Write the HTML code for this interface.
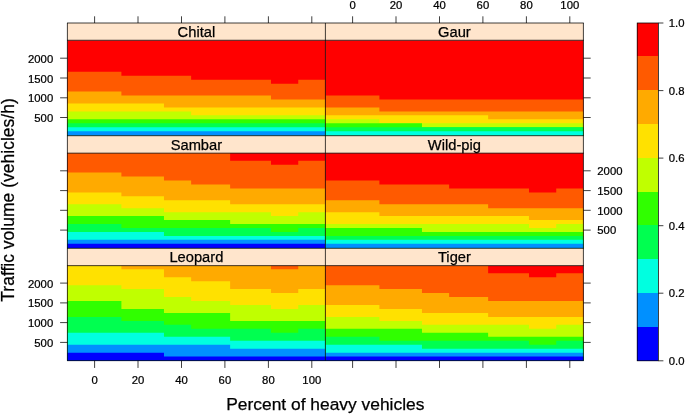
<!DOCTYPE html>
<html><head><meta charset="utf-8"><title>levelplot</title>
<style>html,body{margin:0;padding:0;background:#fff;}svg{display:block;will-change:transform;}</style></head>
<body>
<svg width="685" height="415" viewBox="0 0 685 415">
<rect width="685" height="415" fill="#fff"/>
<path d="M67.40,40.15H121.39V40.15H163.97V40.15H191.13V40.15H230.13V40.15H270.98V40.15H298.24V40.15H325.40V135.70H67.40Z" fill="#FF0000"/>
<path d="M67.40,71.81H121.39V75.77H163.97V75.77H191.13V79.73H230.13V79.73H270.98V83.69H298.24V79.73H325.40V135.70H67.40Z" fill="#FF5A00"/>
<path d="M67.40,91.60H121.39V95.56H163.97V95.56H191.13V95.56H230.13V95.56H270.98V99.52H298.24V99.52H325.40V135.70H67.40Z" fill="#FFAA00"/>
<path d="M67.40,103.48H121.39V103.48H163.97V107.44H191.13V107.44H230.13V107.44H270.98V107.44H298.24V107.44H325.40V135.70H67.40Z" fill="#FFE100"/>
<path d="M67.40,111.39H121.39V111.39H163.97V111.39H191.13V115.35H230.13V115.35H270.98V115.35H298.24V115.35H325.40V135.70H67.40Z" fill="#C0FF00"/>
<path d="M67.40,119.31H121.39V119.31H163.97V119.31H191.13V119.31H230.13V119.31H270.98V119.31H298.24V119.31H325.40V135.70H67.40Z" fill="#30FF00"/>
<path d="M67.40,123.27H121.39V123.27H163.97V123.27H191.13V123.27H230.13V123.27H270.98V123.27H298.24V123.27H325.40V135.70H67.40Z" fill="#00FF50"/>
<path d="M67.40,127.23H121.39V127.23H163.97V127.23H191.13V127.23H230.13V127.23H270.98V127.23H298.24V127.23H325.40V135.70H67.40Z" fill="#00FFE0"/>
<path d="M67.40,131.18H121.39V131.18H163.97V131.18H191.13V131.18H230.13V131.18H270.98V131.18H298.24V131.18H325.40V135.70H67.40Z" fill="#0090FF"/>
<path d="M325.40,40.15H379.39V40.15H421.97V40.15H449.13V40.15H488.13V40.15H528.98V40.15H556.24V40.15H583.40V135.70H325.40Z" fill="#FF0000"/>
<path d="M325.40,95.56H379.39V99.52H421.97V99.52H449.13V99.52H488.13V99.52H528.98V99.52H556.24V99.52H583.40V135.70H325.40Z" fill="#FF5A00"/>
<path d="M325.40,107.44H379.39V111.39H421.97V111.39H449.13V111.39H488.13V111.39H528.98V111.39H556.24V111.39H583.40V135.70H325.40Z" fill="#FFAA00"/>
<path d="M325.40,115.35H379.39V115.35H421.97V115.35H449.13V115.35H488.13V119.31H528.98V119.31H556.24V119.31H583.40V135.70H325.40Z" fill="#FFE100"/>
<path d="M325.40,119.31H379.39V123.27H421.97V123.27H449.13V123.27H488.13V123.27H528.98V123.27H556.24V123.27H583.40V135.70H325.40Z" fill="#C0FF00"/>
<path d="M325.40,123.27H379.39V123.27H421.97V127.23H449.13V127.23H488.13V127.23H528.98V127.23H556.24V127.23H583.40V135.70H325.40Z" fill="#30FF00"/>
<path d="M325.40,127.23H379.39V127.23H421.97V127.23H449.13V127.23H488.13V127.23H528.98V127.23H556.24V127.23H583.40V135.70H325.40Z" fill="#00FF50"/>
<path d="M325.40,131.18H379.39V131.18H421.97V131.18H449.13V131.18H488.13V131.18H528.98V131.18H556.24V131.18H583.40V135.70H325.40Z" fill="#00FFE0"/>
<path d="M67.40,152.85H121.39V152.85H163.97V152.85H191.13V152.85H230.13V152.85H270.98V152.85H298.24V152.85H325.40V248.30H67.40Z" fill="#FF0000"/>
<path d="M67.40,152.85H121.39V152.85H163.97V152.85H191.13V152.85H230.13V160.76H270.98V164.71H298.24V160.76H325.40V248.30H67.40Z" fill="#FF5A00"/>
<path d="M67.40,172.62H121.39V176.57H163.97V180.53H191.13V184.48H230.13V188.44H270.98V188.44H298.24V188.44H325.40V248.30H67.40Z" fill="#FFAA00"/>
<path d="M67.40,192.39H121.39V196.34H163.97V200.30H191.13V200.30H230.13V204.25H270.98V204.25H298.24V204.25H325.40V248.30H67.40Z" fill="#FFE100"/>
<path d="M67.40,204.25H121.39V208.21H163.97V212.16H191.13V212.16H230.13V212.16H270.98V216.11H298.24V212.16H325.40V248.30H67.40Z" fill="#C0FF00"/>
<path d="M67.40,216.11H121.39V216.11H163.97V220.07H191.13V220.07H230.13V224.02H270.98V224.02H298.24V224.02H325.40V248.30H67.40Z" fill="#30FF00"/>
<path d="M67.40,224.02H121.39V227.98H163.97V227.98H191.13V227.98H230.13V227.98H270.98V231.93H298.24V227.98H325.40V248.30H67.40Z" fill="#00FF50"/>
<path d="M67.40,231.93H121.39V231.93H163.97V235.88H191.13V235.88H230.13V235.88H270.98V235.88H298.24V235.88H325.40V248.30H67.40Z" fill="#00FFE0"/>
<path d="M67.40,239.84H121.39V239.84H163.97V239.84H191.13V239.84H230.13V239.84H270.98V239.84H298.24V239.84H325.40V248.30H67.40Z" fill="#0090FF"/>
<path d="M67.40,243.79H121.39V243.79H163.97V243.79H191.13V243.79H230.13V243.79H270.98V243.79H298.24V243.79H325.40V248.30H67.40Z" fill="#0000FF"/>
<path d="M325.40,152.85H379.39V152.85H421.97V152.85H449.13V152.85H488.13V152.85H528.98V152.85H556.24V152.85H583.40V248.30H325.40Z" fill="#FF0000"/>
<path d="M325.40,180.53H379.39V184.48H421.97V184.48H449.13V188.44H488.13V188.44H528.98V192.39H556.24V188.44H583.40V248.30H325.40Z" fill="#FF5A00"/>
<path d="M325.40,200.30H379.39V204.25H421.97V204.25H449.13V204.25H488.13V208.21H528.98V208.21H556.24V208.21H583.40V248.30H325.40Z" fill="#FFAA00"/>
<path d="M325.40,212.16H379.39V216.11H421.97V216.11H449.13V216.11H488.13V216.11H528.98V220.07H556.24V220.07H583.40V248.30H325.40Z" fill="#FFE100"/>
<path d="M325.40,224.02H379.39V224.02H421.97V224.02H449.13V224.02H488.13V224.02H528.98V227.98H556.24V224.02H583.40V248.30H325.40Z" fill="#C0FF00"/>
<path d="M325.40,227.98H379.39V227.98H421.97V231.93H449.13V231.93H488.13V231.93H528.98V231.93H556.24V231.93H583.40V248.30H325.40Z" fill="#30FF00"/>
<path d="M325.40,235.88H379.39V235.88H421.97V235.88H449.13V235.88H488.13V235.88H528.98V235.88H556.24V235.88H583.40V248.30H325.40Z" fill="#00FF50"/>
<path d="M325.40,239.84H379.39V239.84H421.97V239.84H449.13V239.84H488.13V239.84H528.98V239.84H556.24V239.84H583.40V248.30H325.40Z" fill="#00FFE0"/>
<path d="M325.40,243.79H379.39V243.79H421.97V243.79H449.13V243.79H488.13V243.79H528.98V243.79H556.24V243.79H583.40V248.30H325.40Z" fill="#0090FF"/>
<path d="M67.40,265.30H121.39V265.30H163.97V265.30H191.13V265.30H230.13V265.30H270.98V265.30H298.24V265.30H325.40V360.65H67.40Z" fill="#FF0000"/>
<path d="M67.40,265.30H121.39V265.30H163.97V265.30H191.13V265.30H230.13V265.30H270.98V265.30H298.24V265.30H325.40V360.65H67.40Z" fill="#FF5A00"/>
<path d="M67.40,265.30H121.39V265.30H163.97V265.30H191.13V265.30H230.13V265.30H270.98V269.27H298.24V265.30H325.40V360.65H67.40Z" fill="#FFAA00"/>
<path d="M67.40,265.30H121.39V269.27H163.97V277.21H191.13V281.18H230.13V289.12H270.98V293.09H298.24V289.12H325.40V360.65H67.40Z" fill="#FFE100"/>
<path d="M67.40,285.15H121.39V289.12H163.97V297.06H191.13V301.03H230.13V305.00H270.98V308.97H298.24V305.00H325.40V360.65H67.40Z" fill="#C0FF00"/>
<path d="M67.40,301.03H121.39V308.97H163.97V312.94H191.13V312.94H230.13V320.88H270.98V320.88H298.24V320.88H325.40V360.65H67.40Z" fill="#30FF00"/>
<path d="M67.40,316.91H121.39V320.88H163.97V324.85H191.13V328.82H230.13V328.82H270.98V332.79H298.24V328.82H325.40V360.65H67.40Z" fill="#00FF50"/>
<path d="M67.40,332.79H121.39V332.79H163.97V336.76H191.13V336.76H230.13V340.73H270.98V340.73H298.24V340.73H325.40V360.65H67.40Z" fill="#00FFE0"/>
<path d="M67.40,344.70H121.39V344.70H163.97V344.70H191.13V344.70H230.13V348.67H270.98V348.67H298.24V348.67H325.40V360.65H67.40Z" fill="#0090FF"/>
<path d="M67.40,352.64H121.39V352.64H163.97V356.61H191.13V356.61H230.13V356.61H270.98V356.61H298.24V356.61H325.40V360.65H67.40Z" fill="#0000FF"/>
<path d="M325.40,265.30H379.39V265.30H421.97V265.30H449.13V265.30H488.13V265.30H528.98V265.30H556.24V265.30H583.40V360.65H325.40Z" fill="#FF0000"/>
<path d="M325.40,265.30H379.39V265.30H421.97V265.30H449.13V265.30H488.13V273.24H528.98V277.21H556.24V273.24H583.40V360.65H325.40Z" fill="#FF5A00"/>
<path d="M325.40,285.15H379.39V289.12H421.97V293.09H449.13V297.06H488.13V301.03H528.98V301.03H556.24V301.03H583.40V360.65H325.40Z" fill="#FFAA00"/>
<path d="M325.40,305.00H379.39V308.97H421.97V312.94H449.13V312.94H488.13V316.91H528.98V316.91H556.24V316.91H583.40V360.65H325.40Z" fill="#FFE100"/>
<path d="M325.40,316.91H379.39V320.88H421.97V324.85H449.13V324.85H488.13V324.85H528.98V328.82H556.24V324.85H583.40V360.65H325.40Z" fill="#C0FF00"/>
<path d="M325.40,328.82H379.39V328.82H421.97V332.79H449.13V332.79H488.13V336.76H528.98V336.76H556.24V336.76H583.40V360.65H325.40Z" fill="#30FF00"/>
<path d="M325.40,336.76H379.39V340.73H421.97V340.73H449.13V340.73H488.13V340.73H528.98V344.70H556.24V340.73H583.40V360.65H325.40Z" fill="#00FF50"/>
<path d="M325.40,344.70H379.39V344.70H421.97V348.67H449.13V348.67H488.13V348.67H528.98V348.67H556.24V348.67H583.40V360.65H325.40Z" fill="#00FFE0"/>
<path d="M325.40,352.64H379.39V352.64H421.97V352.64H449.13V352.64H488.13V352.64H528.98V352.64H556.24V352.64H583.40V360.65H325.40Z" fill="#0090FF"/>
<path d="M325.40,356.61H379.39V356.61H421.97V356.61H449.13V356.61H488.13V356.61H528.98V356.61H556.24V356.61H583.40V360.65H325.40Z" fill="#0000FF"/>
<rect x="67.4" y="23.0" width="516.0" height="17.25" fill="#FFE5CC"/>
<text x="196.4" y="36.9" font-size="14.7" text-anchor="middle" font-family="Liberation Sans, sans-serif" stroke="#000" stroke-width="0.25">Chital</text>
<text x="454.4" y="36.9" font-size="14.7" text-anchor="middle" font-family="Liberation Sans, sans-serif" stroke="#000" stroke-width="0.25">Gaur</text>
<rect x="67.4" y="135.7" width="516.0" height="17.450000000000017" fill="#FFE5CC"/>
<text x="196.4" y="149.8" font-size="14.7" text-anchor="middle" font-family="Liberation Sans, sans-serif" stroke="#000" stroke-width="0.25">Sambar</text>
<text x="454.4" y="149.8" font-size="14.7" text-anchor="middle" font-family="Liberation Sans, sans-serif" stroke="#000" stroke-width="0.25">Wild-pig</text>
<rect x="67.4" y="248.3" width="516.0" height="17.349999999999966" fill="#FFE5CC"/>
<text x="196.4" y="262.2" font-size="14.7" text-anchor="middle" font-family="Liberation Sans, sans-serif" stroke="#000" stroke-width="0.25">Leopard</text>
<text x="454.4" y="262.2" font-size="14.7" text-anchor="middle" font-family="Liberation Sans, sans-serif" stroke="#000" stroke-width="0.25">Tiger</text>
<path d="M67.03,23.0H583.77M67.03,40.25H583.77M67.03,135.7H583.77M67.03,153.15H583.77M67.03,248.3H583.77M67.03,265.65H583.77M67.03,360.65H583.77M67.4,23.0V360.65M325.4,23.0V360.65M583.4,23.0V360.65" fill="none" stroke="#000" stroke-width="0.75"/>
<line x1="94.6" y1="23.0" x2="94.6" y2="16.3" stroke="#000" stroke-width="0.75"/>
<line x1="352.6" y1="23.0" x2="352.6" y2="16.3" stroke="#000" stroke-width="0.75"/>
<text transform="translate(352.6,8.6) scale(0.967,1)" font-size="11.7" text-anchor="middle" font-family="Liberation Sans, sans-serif" stroke="#000" stroke-width="0.25">0</text>
<line x1="94.6" y1="360.65" x2="94.6" y2="367.95" stroke="#000" stroke-width="0.75"/>
<text transform="translate(94.6,383.7) scale(0.967,1)" font-size="11.7" text-anchor="middle" font-family="Liberation Sans, sans-serif" stroke="#000" stroke-width="0.25">0</text>
<line x1="352.6" y1="360.65" x2="352.6" y2="367.95" stroke="#000" stroke-width="0.75"/>
<line x1="138.0" y1="23.0" x2="138.0" y2="16.3" stroke="#000" stroke-width="0.75"/>
<line x1="396.0" y1="23.0" x2="396.0" y2="16.3" stroke="#000" stroke-width="0.75"/>
<text transform="translate(396.0,8.6) scale(0.967,1)" font-size="11.7" text-anchor="middle" font-family="Liberation Sans, sans-serif" stroke="#000" stroke-width="0.25">20</text>
<line x1="138.0" y1="360.65" x2="138.0" y2="367.95" stroke="#000" stroke-width="0.75"/>
<text transform="translate(138.0,383.7) scale(0.967,1)" font-size="11.7" text-anchor="middle" font-family="Liberation Sans, sans-serif" stroke="#000" stroke-width="0.25">20</text>
<line x1="396.0" y1="360.65" x2="396.0" y2="367.95" stroke="#000" stroke-width="0.75"/>
<line x1="181.5" y1="23.0" x2="181.5" y2="16.3" stroke="#000" stroke-width="0.75"/>
<line x1="439.5" y1="23.0" x2="439.5" y2="16.3" stroke="#000" stroke-width="0.75"/>
<text transform="translate(439.5,8.6) scale(0.967,1)" font-size="11.7" text-anchor="middle" font-family="Liberation Sans, sans-serif" stroke="#000" stroke-width="0.25">40</text>
<line x1="181.5" y1="360.65" x2="181.5" y2="367.95" stroke="#000" stroke-width="0.75"/>
<text transform="translate(181.5,383.7) scale(0.967,1)" font-size="11.7" text-anchor="middle" font-family="Liberation Sans, sans-serif" stroke="#000" stroke-width="0.25">40</text>
<line x1="439.5" y1="360.65" x2="439.5" y2="367.95" stroke="#000" stroke-width="0.75"/>
<line x1="224.9" y1="23.0" x2="224.9" y2="16.3" stroke="#000" stroke-width="0.75"/>
<line x1="482.9" y1="23.0" x2="482.9" y2="16.3" stroke="#000" stroke-width="0.75"/>
<text transform="translate(482.9,8.6) scale(0.967,1)" font-size="11.7" text-anchor="middle" font-family="Liberation Sans, sans-serif" stroke="#000" stroke-width="0.25">60</text>
<line x1="224.9" y1="360.65" x2="224.9" y2="367.95" stroke="#000" stroke-width="0.75"/>
<text transform="translate(224.9,383.7) scale(0.967,1)" font-size="11.7" text-anchor="middle" font-family="Liberation Sans, sans-serif" stroke="#000" stroke-width="0.25">60</text>
<line x1="482.9" y1="360.65" x2="482.9" y2="367.95" stroke="#000" stroke-width="0.75"/>
<line x1="268.4" y1="23.0" x2="268.4" y2="16.3" stroke="#000" stroke-width="0.75"/>
<line x1="526.4" y1="23.0" x2="526.4" y2="16.3" stroke="#000" stroke-width="0.75"/>
<text transform="translate(526.4,8.6) scale(0.967,1)" font-size="11.7" text-anchor="middle" font-family="Liberation Sans, sans-serif" stroke="#000" stroke-width="0.25">80</text>
<line x1="268.4" y1="360.65" x2="268.4" y2="367.95" stroke="#000" stroke-width="0.75"/>
<text transform="translate(268.4,383.7) scale(0.967,1)" font-size="11.7" text-anchor="middle" font-family="Liberation Sans, sans-serif" stroke="#000" stroke-width="0.25">80</text>
<line x1="526.4" y1="360.65" x2="526.4" y2="367.95" stroke="#000" stroke-width="0.75"/>
<line x1="311.8" y1="23.0" x2="311.8" y2="16.3" stroke="#000" stroke-width="0.75"/>
<line x1="569.8" y1="23.0" x2="569.8" y2="16.3" stroke="#000" stroke-width="0.75"/>
<text transform="translate(569.8,8.6) scale(0.967,1)" font-size="11.7" text-anchor="middle" font-family="Liberation Sans, sans-serif" stroke="#000" stroke-width="0.25">100</text>
<line x1="311.8" y1="360.65" x2="311.8" y2="367.95" stroke="#000" stroke-width="0.75"/>
<text transform="translate(311.8,383.7) scale(0.967,1)" font-size="11.7" text-anchor="middle" font-family="Liberation Sans, sans-serif" stroke="#000" stroke-width="0.25">100</text>
<line x1="569.8" y1="360.65" x2="569.8" y2="367.95" stroke="#000" stroke-width="0.75"/>
<line x1="67.4" y1="117.5" x2="60.10000000000001" y2="117.5" stroke="#000" stroke-width="0.75"/>
<line x1="583.4" y1="117.5" x2="590.6999999999999" y2="117.5" stroke="#000" stroke-width="0.75"/>
<text transform="translate(53.2,122.0) scale(0.967,1)" font-size="11.7" text-anchor="end" font-family="Liberation Sans, sans-serif" stroke="#000" stroke-width="0.25">500</text>
<line x1="67.4" y1="97.8" x2="60.10000000000001" y2="97.8" stroke="#000" stroke-width="0.75"/>
<line x1="583.4" y1="97.8" x2="590.6999999999999" y2="97.8" stroke="#000" stroke-width="0.75"/>
<text transform="translate(53.2,102.2) scale(0.967,1)" font-size="11.7" text-anchor="end" font-family="Liberation Sans, sans-serif" stroke="#000" stroke-width="0.25">1000</text>
<line x1="67.4" y1="78.0" x2="60.10000000000001" y2="78.0" stroke="#000" stroke-width="0.75"/>
<line x1="583.4" y1="78.0" x2="590.6999999999999" y2="78.0" stroke="#000" stroke-width="0.75"/>
<text transform="translate(53.2,82.5) scale(0.967,1)" font-size="11.7" text-anchor="end" font-family="Liberation Sans, sans-serif" stroke="#000" stroke-width="0.25">1500</text>
<line x1="67.4" y1="58.2" x2="60.10000000000001" y2="58.2" stroke="#000" stroke-width="0.75"/>
<line x1="583.4" y1="58.2" x2="590.6999999999999" y2="58.2" stroke="#000" stroke-width="0.75"/>
<text transform="translate(53.2,62.8) scale(0.967,1)" font-size="11.7" text-anchor="end" font-family="Liberation Sans, sans-serif" stroke="#000" stroke-width="0.25">2000</text>
<line x1="67.4" y1="230.1" x2="60.10000000000001" y2="230.1" stroke="#000" stroke-width="0.75"/>
<line x1="583.4" y1="230.1" x2="590.6999999999999" y2="230.1" stroke="#000" stroke-width="0.75"/>
<text transform="translate(597.3,234.3) scale(0.967,1)" font-size="11.7" text-anchor="start" font-family="Liberation Sans, sans-serif" stroke="#000" stroke-width="0.25">500</text>
<line x1="67.4" y1="210.3" x2="60.10000000000001" y2="210.3" stroke="#000" stroke-width="0.75"/>
<line x1="583.4" y1="210.3" x2="590.6999999999999" y2="210.3" stroke="#000" stroke-width="0.75"/>
<text transform="translate(597.3,214.6) scale(0.967,1)" font-size="11.7" text-anchor="start" font-family="Liberation Sans, sans-serif" stroke="#000" stroke-width="0.25">1000</text>
<line x1="67.4" y1="190.6" x2="60.10000000000001" y2="190.6" stroke="#000" stroke-width="0.75"/>
<line x1="583.4" y1="190.6" x2="590.6999999999999" y2="190.6" stroke="#000" stroke-width="0.75"/>
<text transform="translate(597.3,194.8) scale(0.967,1)" font-size="11.7" text-anchor="start" font-family="Liberation Sans, sans-serif" stroke="#000" stroke-width="0.25">1500</text>
<line x1="67.4" y1="170.8" x2="60.10000000000001" y2="170.8" stroke="#000" stroke-width="0.75"/>
<line x1="583.4" y1="170.8" x2="590.6999999999999" y2="170.8" stroke="#000" stroke-width="0.75"/>
<text transform="translate(597.3,175.1) scale(0.967,1)" font-size="11.7" text-anchor="start" font-family="Liberation Sans, sans-serif" stroke="#000" stroke-width="0.25">2000</text>
<line x1="67.4" y1="342.4" x2="60.10000000000001" y2="342.4" stroke="#000" stroke-width="0.75"/>
<line x1="583.4" y1="342.4" x2="590.6999999999999" y2="342.4" stroke="#000" stroke-width="0.75"/>
<text transform="translate(53.2,346.9) scale(0.967,1)" font-size="11.7" text-anchor="end" font-family="Liberation Sans, sans-serif" stroke="#000" stroke-width="0.25">500</text>
<line x1="67.4" y1="322.6" x2="60.10000000000001" y2="322.6" stroke="#000" stroke-width="0.75"/>
<line x1="583.4" y1="322.6" x2="590.6999999999999" y2="322.6" stroke="#000" stroke-width="0.75"/>
<text transform="translate(53.2,327.1) scale(0.967,1)" font-size="11.7" text-anchor="end" font-family="Liberation Sans, sans-serif" stroke="#000" stroke-width="0.25">1000</text>
<line x1="67.4" y1="302.9" x2="60.10000000000001" y2="302.9" stroke="#000" stroke-width="0.75"/>
<line x1="583.4" y1="302.9" x2="590.6999999999999" y2="302.9" stroke="#000" stroke-width="0.75"/>
<text transform="translate(53.2,307.4) scale(0.967,1)" font-size="11.7" text-anchor="end" font-family="Liberation Sans, sans-serif" stroke="#000" stroke-width="0.25">1500</text>
<line x1="67.4" y1="283.1" x2="60.10000000000001" y2="283.1" stroke="#000" stroke-width="0.75"/>
<line x1="583.4" y1="283.1" x2="590.6999999999999" y2="283.1" stroke="#000" stroke-width="0.75"/>
<text transform="translate(53.2,287.6) scale(0.967,1)" font-size="11.7" text-anchor="end" font-family="Liberation Sans, sans-serif" stroke="#000" stroke-width="0.25">2000</text>
<text x="325.3" y="409.7" font-size="17.4" text-anchor="middle" font-family="Liberation Sans, sans-serif" stroke="#000" stroke-width="0.25">Percent of heavy vehicles</text>
<text transform="translate(14.3,200.0) rotate(-90)" font-size="17.52" text-anchor="middle" font-family="Liberation Sans, sans-serif" stroke="#000" stroke-width="0.25">Traffic volume (vehicles/h)</text>
<g shape-rendering="crispEdges">
<rect x="637.2" y="23.00" width="21.199999999999932" height="33.36" fill="#FF0000"/>
<rect x="637.2" y="56.06" width="21.199999999999932" height="34.16" fill="#FF5A00"/>
<rect x="637.2" y="89.92" width="21.199999999999932" height="34.16" fill="#FFAA00"/>
<rect x="637.2" y="123.78" width="21.199999999999932" height="34.16" fill="#FFE100"/>
<rect x="637.2" y="157.64" width="21.199999999999932" height="34.16" fill="#C0FF00"/>
<rect x="637.2" y="191.50" width="21.199999999999932" height="34.16" fill="#30FF00"/>
<rect x="637.2" y="225.36" width="21.199999999999932" height="34.16" fill="#00FF50"/>
<rect x="637.2" y="259.22" width="21.199999999999932" height="34.16" fill="#00FFE0"/>
<rect x="637.2" y="293.08" width="21.199999999999932" height="34.16" fill="#0090FF"/>
<rect x="637.2" y="326.94" width="21.199999999999932" height="34.16" fill="#0000FF"/>
</g>
<rect x="637.2" y="23.0" width="21.199999999999932" height="337.8" fill="none" stroke="#000" stroke-width="0.75"/>
<line x1="658.4" y1="23.0" x2="663.4" y2="23.0" stroke="#000" stroke-width="0.75"/>
<text transform="translate(668.7,27.0) scale(0.967,1)" font-size="11.7" text-anchor="start" font-family="Liberation Sans, sans-serif" stroke="#000" stroke-width="0.25">1.0</text>
<line x1="658.4" y1="90.6" x2="663.4" y2="90.6" stroke="#000" stroke-width="0.75"/>
<text transform="translate(668.7,94.6) scale(0.967,1)" font-size="11.7" text-anchor="start" font-family="Liberation Sans, sans-serif" stroke="#000" stroke-width="0.25">0.8</text>
<line x1="658.4" y1="158.1" x2="663.4" y2="158.1" stroke="#000" stroke-width="0.75"/>
<text transform="translate(668.7,162.1) scale(0.967,1)" font-size="11.7" text-anchor="start" font-family="Liberation Sans, sans-serif" stroke="#000" stroke-width="0.25">0.6</text>
<line x1="658.4" y1="225.7" x2="663.4" y2="225.7" stroke="#000" stroke-width="0.75"/>
<text transform="translate(668.7,229.7) scale(0.967,1)" font-size="11.7" text-anchor="start" font-family="Liberation Sans, sans-serif" stroke="#000" stroke-width="0.25">0.4</text>
<line x1="658.4" y1="293.2" x2="663.4" y2="293.2" stroke="#000" stroke-width="0.75"/>
<text transform="translate(668.7,297.2) scale(0.967,1)" font-size="11.7" text-anchor="start" font-family="Liberation Sans, sans-serif" stroke="#000" stroke-width="0.25">0.2</text>
<line x1="658.4" y1="360.8" x2="663.4" y2="360.8" stroke="#000" stroke-width="0.75"/>
<text transform="translate(668.7,364.8) scale(0.967,1)" font-size="11.7" text-anchor="start" font-family="Liberation Sans, sans-serif" stroke="#000" stroke-width="0.25">0.0</text>
</svg>
</body></html>
